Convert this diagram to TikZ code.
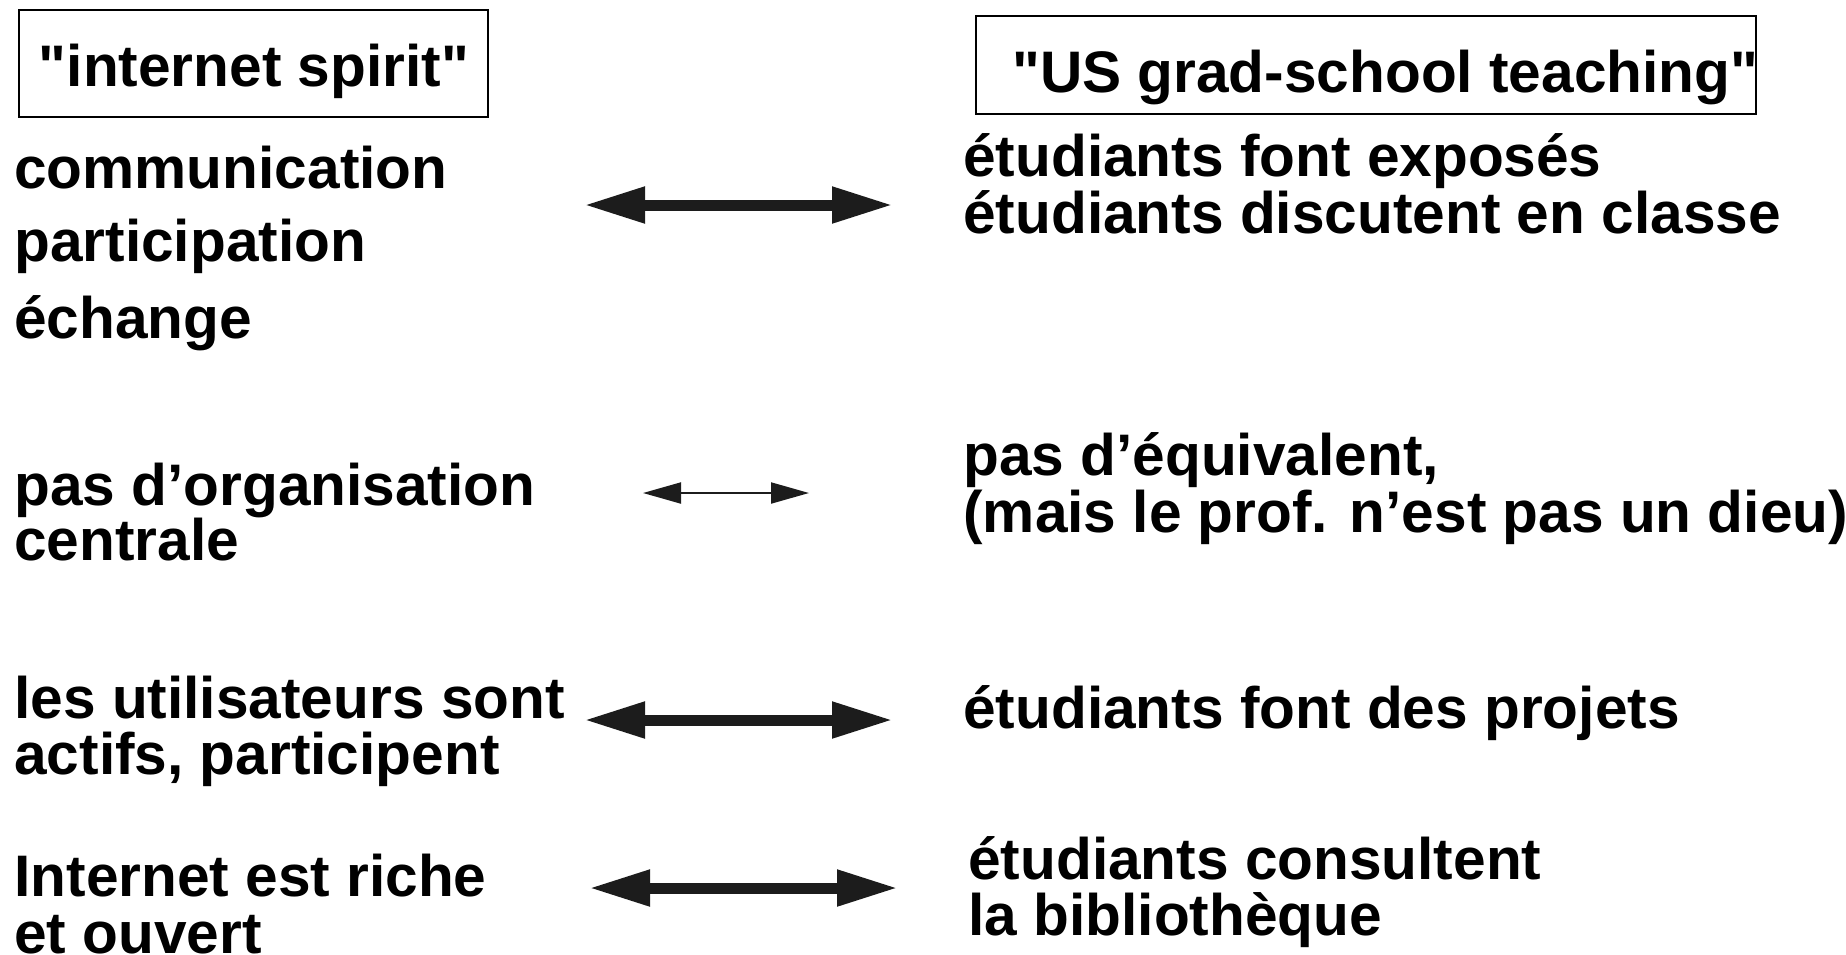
\documentclass[tikz,border=0pt]{standalone}
\usepackage{fontspec}
\setmainfont{Liberation Sans}[Ligatures=TeXOff]
\usetikzlibrary{arrows.meta}
\definecolor{arrowgray}{HTML}{1C1C1C}

\begin{document}
\begin{tikzpicture}[x=0.5pt,y=-0.5pt,
  txt/.style={anchor=base west, inner sep=0pt, font=\fontsize{29.3}{29.3}\selectfont\bfseries},
  hdrtxt/.style={txt, anchor=base},
  frame/.style={draw, line width=1pt},
  bigarrow/.style={{Triangle[length=30.5pt,width=17pt]}-{Triangle[length=30.5pt,width=17pt]},
    line width=5.5pt, draw=arrowgray, fill=arrowgray},
  thinarrow/.style={{Triangle[length=19pt,width=10.5pt]}-{Triangle[length=19pt,width=10.5pt]},
    line width=1pt, draw=arrowgray, fill=arrowgray}
]
\useasboundingbox (0,0) rectangle (1846,954);

% column headers
\draw[frame] (19,10) rectangle (488,117);
\node[hdrtxt] (hleft) at (254,86) {"internet spirit"};
\draw[frame] (976,16) rectangle (1756,114);
\node[txt] (hright) at (1012,92) {"US grad-school teaching"};

% left column
\node[txt] (l1a) at (14,188) {communication};
\node[txt] (l1b) at (14,261) {participation};
\node[txt] (l1c) at (14,338) {échange};
\node[txt] (l2a) at (14,505) {pas d’organisation};
\node[txt] (l2b) at (14,560) {centrale};
\node[txt] (l3a) at (14,718) {les utilisateurs sont};
\node[txt] (l3b) at (14,774) {actifs, participent};
\node[txt] (l4a) at (14,896) {Internet est riche};
\node[txt] (l4b) at (14,953) {et ouvert};

% right column
\node[txt] (r1a) at (963,176) {étudiants font exposés};
\node[txt] (r1b) at (963,233) {étudiants discutent en classe};
\node[txt] (r2a) at (963,475) {pas d’équivalent,};
\node[txt] (r2b) at (963,532) {(mais le prof. n’est pas un dieu)};
\node[txt] (r3a) at (963,728) {étudiants font des projets};
\node[txt] (r4a) at (968,879) {étudiants consultent};
\node[txt] (r4b) at (968,935) {la bibliothèque};

% correspondence arrows
\coordinate (a1l) at (584,205);  \coordinate (a1r) at (893,205);
\coordinate (a2l) at (643,493);  \coordinate (a2r) at (809,493);
\coordinate (a3l) at (584,720);  \coordinate (a3r) at (893,720);
\coordinate (a4l) at (589,888);  \coordinate (a4r) at (898,888);
\draw[bigarrow] (a1l) -- (a1r);
\draw[thinarrow] (a2l) -- (a2r);
\draw[bigarrow] (a3l) -- (a3r);
\draw[bigarrow] (a4l) -- (a4r);
\end{tikzpicture}
\end{document}
